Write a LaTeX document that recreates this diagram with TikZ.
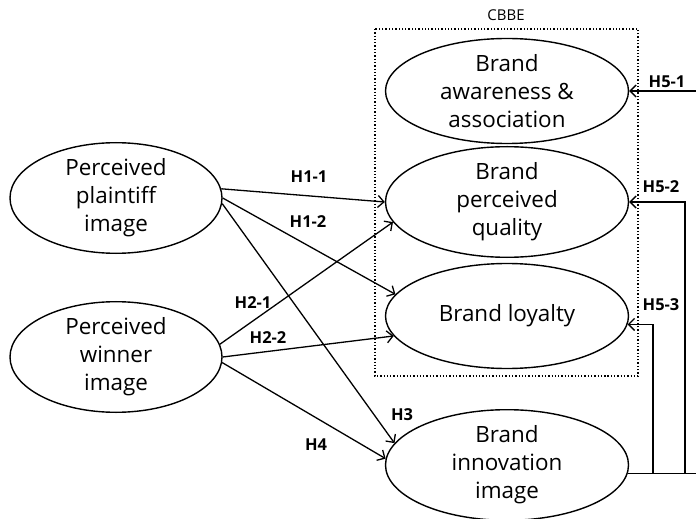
\documentclass[tikz,border=0pt]{standalone}
\usepackage{fontspec}
\setmainfont{Open Sans}
\usetikzlibrary{positioning,shapes.geometric,arrows.meta}

\tikzset{
  lat/.style={draw, ellipse, line width=1.4bp, inner sep=0pt, align=center,
    font=\fontsize{22.5}{28}\selectfont},
  lft/.style={lat, minimum width=212bp, minimum height=104bp},
  rgt/.style={lat, minimum width=243bp, minimum height=105bp},
  hyp/.style={font=\fontsize{16.5}{18}\selectfont\bfseries},
  arr/.style={-{Straight Barb[length=6bp, width=12bp, line width=1.3bp]}, line width=1.3bp},
}

\begin{document}
\begin{tikzpicture}[x=1bp, y=-1bp]
\useasboundingbox (0,0) rectangle (696,519);

\def\xl{116}
\def\xr{507}

\node[lft] (pp) at (\xl, 198) {Perceived\\plaintiff\\image};
\node[lft] (wi) at (\xl, 357) {Perceived\\winner\\image};
\node[rgt] (aw) at (\xr, 91) {Brand\\awareness \&\\association};
\node[rgt] (qu) at (\xr, 202) {Brand\\perceived\\quality};
\node[rgt] (lo) at (\xr, 316) {Brand loyalty};
\node[rgt] (in) at (\xr, 465) {Brand\\innovation\\image};

\draw[dotted, line width=1.3bp] (375,29) rectangle (638,376);
\node[font=\fontsize{15}{17}\selectfont] (cb) at (506,15) {CBBE};

\draw[arr] (pp.5) -- (qu.west);
\draw[arr] (pp.east) -- (lo.169);
\draw[arr] (pp.-3) -- (in.169);
\draw[arr] (wi.7) -- (qu.190);
\draw[arr] (wi.east) -- (lo.190);
\draw[arr] (wi.-3) -- (in.177);

\coordinate (v1) at (704,0);
\coordinate (v2) at (685,0);
\coordinate (v3) at (653,0);
\draw[arr] (in.-4) -| (v1 |- aw.east) -- (aw.east);
\draw[arr] (in.-4) -| (v2 |- qu.east) -- (qu.east);
\draw[arr] (in.-4) -| (v3 |- lo.-4) -- (lo.-4);

\node[hyp] at (309,177) {H1-1};
\node[hyp] at (308,222) {H1-2};
\node[hyp] at (253,303) {H2-1};
\node[hyp] at (268,338) {H2-2};
\node[hyp] at (402,415) {H3};
\node[hyp] at (316,445) {H4};
\node[hyp] at (667,82) {H5-1};
\node[hyp] at (661,187) {H5-2};
\node[hyp] at (661,305) {H5-3};
\end{tikzpicture}
\end{document}
